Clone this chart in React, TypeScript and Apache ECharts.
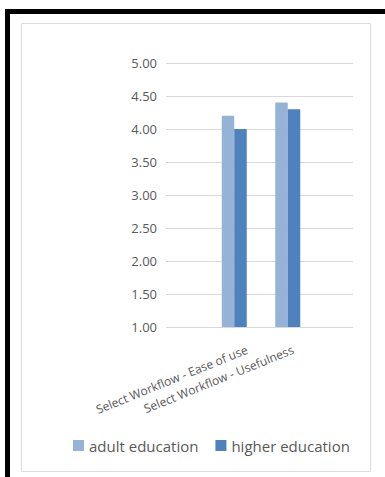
import React, { useEffect, useRef } from "react";
import * as echarts from "echarts";

const categories = ["Select Workflow - Ease of use", "Select Workflow - Usefulness"];
const seriesNames = ["adult education", "higher education"];
const adultValues = [4.2, 4.4];
const higherValues = [4.0, 4.3];
const yMin = 1;
const yMax = 5;
const yInterval = 0.5;

const LIGHT = "#95B3D7";
const DARK = "#4F81BD";
const TEXT = "#595959";
const FONT = "'Open Sans', 'Noto Sans', sans-serif";

export default function App() {
  const ref = useRef<HTMLDivElement>(null);
  useEffect(() => {
    if (!ref.current) return;
    const chart = echarts.init(ref.current, null, { renderer: "svg" });
    chart.setOption({
      animation: false,
      backgroundColor: "#ffffff",
      textStyle: { fontFamily: FONT },
      graphic: [
        { type: "rect", shape: { x: 5, y: 9, width: 380, height: 5 }, style: { fill: "#000" } },
        { type: "rect", shape: { x: 5, y: 9, width: 5, height: 468 }, style: { fill: "#000" } },
        {
          type: "rect",
          shape: { x: 21.5, y: 23.5, width: 349, height: 448 },
          style: { fill: "none", stroke: "#dcdcdc", lineWidth: 1 },
        },
      ],
      legend: {
        left: 73,
        top: 438,
        padding: 0,
        itemWidth: 11,
        itemHeight: 11,
        itemGap: 17,
        icon: "rect",
        textStyle: { color: TEXT, fontSize: 15, fontFamily: FONT },
        data: seriesNames,
      },
      grid: [
        { left: 166, width: 187, top: 63, height: 264 },
        { left: 207.5, width: 107, top: 63, height: 264 },
        { left: 224, width: 92, top: 63, height: 264 },
      ],
      xAxis: [
        { gridIndex: 0, type: "category", data: [""], show: false },
        {
          gridIndex: 1,
          type: "category",
          data: categories,
          axisLine: { show: false },
          axisTick: { show: false },
          axisLabel: { show: false },
        },
        {
          gridIndex: 2,
          type: "category",
          data: categories,
          axisLine: { show: false },
          axisTick: { show: false },
          axisLabel: { rotate: 22, color: TEXT, fontSize: 12, fontFamily: FONT, margin: 22, interval: 0 },
        },
      ],
      yAxis: [
        {
          gridIndex: 0,
          type: "value",
          min: yMin,
          max: yMax,
          interval: yInterval,
          axisLine: { show: false },
          axisTick: { show: false },
          axisLabel: {
            color: TEXT,
            fontSize: 13,
            fontFamily: FONT,
            margin: 9,
            formatter: (v: number) => v.toFixed(2),
          },
          splitLine: { show: true, lineStyle: { color: "#d9d9d9", width: 1 } },
        },
        { gridIndex: 1, type: "value", min: yMin, max: yMax, show: false, splitLine: { show: false } },
        { gridIndex: 2, type: "value", min: yMin, max: yMax, show: false, splitLine: { show: false } },
      ],
      series: [
        {
          name: seriesNames[0],
          type: "bar",
          xAxisIndex: 1,
          yAxisIndex: 1,
          data: adultValues,
          barWidth: 12.5,
          barGap: "0%",
          itemStyle: { color: LIGHT },
        },
        {
          name: seriesNames[1],
          type: "bar",
          xAxisIndex: 1,
          yAxisIndex: 1,
          data: higherValues,
          barWidth: 12.5,
          barGap: "0%",
          itemStyle: { color: DARK },
        },
      ],
    });
    return () => chart.dispose();
  }, []);
  return (
    <div
      ref={ref}
      style={{ position: "fixed", left: 0, top: 0, width: 385, height: 477 }}
    />
  );
}
